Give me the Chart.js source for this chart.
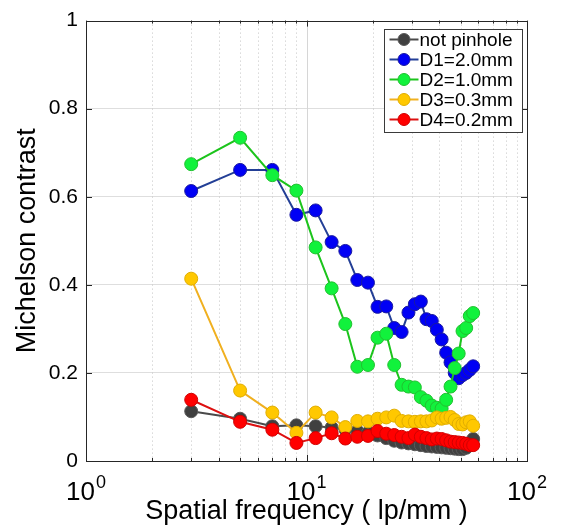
<!DOCTYPE html>
<html><head><meta charset="utf-8">
<script src="https://cdn.jsdelivr.net/npm/chart.js@4/dist/chart.umd.min.js"></script>
<style>html,body{margin:0;padding:0;background:#fff}#wrap{width:565px;height:529px;position:relative}</style>
</head><body><div id="wrap"><canvas id="c" width="565" height="529"></canvas></div>
<script>
const frequencies = [3,5,7,9,11,13,15,17,19,21,23,25,27,29,31,33,35,37,39,41,43,45,47,49,51,53,55,57];
const notPinhole = [0.113,0.096,0.079,0.081,0.079,0.076,0.072,0.068,0.064,0.058,0.052,0.046,0.042,0.040,0.038,0.036,0.034,0.033,0.032,0.031,0.030,0.029,0.028,0.027,0.027,0.030,0.040,0.050];
const d1 = [0.613,0.661,0.661,0.559,0.569,0.497,0.477,0.411,0.405,0.350,0.351,0.302,0.293,0.337,0.356,0.362,0.322,0.318,0.298,0.276,0.246,0.224,0.200,0.188,0.195,0.200,0.207,0.215];
const d2 = [0.674,0.734,0.649,0.614,0.485,0.392,0.311,0.214,0.218,0.280,0.289,0.218,0.173,0.169,0.167,0.145,0.137,0.126,0.121,0.119,0.139,0.169,0.211,0.244,0.295,0.302,0.329,0.336];
const d3 = [0.414,0.160,0.110,0.064,0.110,0.099,0.077,0.091,0.090,0.096,0.099,0.103,0.091,0.090,0.089,0.090,0.090,0.092,0.099,0.096,0.098,0.100,0.093,0.084,0.083,0.088,0.090,0.080];
const d4 = [0.139,0.089,0.071,0.041,0.052,0.063,0.051,0.055,0.057,0.068,0.062,0.059,0.055,0.052,0.060,0.055,0.052,0.049,0.051,0.050,0.047,0.044,0.043,0.042,0.041,0.039,0.036,0.036];
const seriesLabels = ['not pinhole','D1=2.0mm','D2=1.0mm','D3=0.3mm','D4=0.2mm'];
const xTickValues = [1,10,100];
const xTickBase = '10';
const xTickExponents = ['0','1','2'];
const xMinorValues = [2,3,4,5,6,7,8,9,20,30,40,50,60,70,80,90];
const yTickValues = [0,0.2,0.4,0.6,0.8,1];
const yTickLabels = ['0','0.2','0.4','0.6','0.8','1'];

const FONT = '"Liberation Sans", Arial, Helvetica, sans-serif';
const styles = [
  {face:'#404040', edge:'#5a5a5a', line:'#4a4a4a', order:5},
  {face:'#0000f5', edge:'#1a1aa0', line:'#233f96', order:4},
  {face:'#11f23c', edge:'#22c030', line:'#1cc41c', order:3},
  {face:'#ffc800', edge:'#e0ad00', line:'#f0b020', order:2},
  {face:'#ff0000', edge:'#d00000', line:'#dd1010', order:1}
];
const allSeries = [notPinhole, d1, d2, d3, d4];

const datasets = allSeries.map((arr, i) => ({
  label: seriesLabels[i],
  data: frequencies.map((f, j) => ({x: f, y: arr[j]})),
  borderColor: styles[i].line,
  borderWidth: 2,
  backgroundColor: styles[i].face,
  pointBackgroundColor: styles[i].face,
  pointBorderColor: styles[i].edge,
  pointBorderWidth: 1,
  pointRadius: 6.5,
  pointHoverRadius: 6.5,
  tension: 0,
  fill: false,
  order: styles[i].order
}));

const decor = {
  id: 'decor',
  beforeDatasetsDraw(chart) {
    const ctx = chart.ctx, ca = chart.chartArea, xs = chart.scales.x;
    ctx.save();
    ctx.lineWidth = 1;
    ctx.strokeStyle = '#c4c4c4';
    ctx.setLineDash([1, 3]);
    xMinorValues.forEach(v => {
      const px = Math.round(xs.getPixelForValue(v)) + 0.5;
      ctx.beginPath(); ctx.moveTo(px, ca.top); ctx.lineTo(px, ca.bottom); ctx.stroke();
    });
    ctx.setLineDash([]);
    ctx.strokeStyle = '#d6d6d6';
    const p10 = Math.round(xs.getPixelForValue(10)) + 0.5;
    ctx.beginPath(); ctx.moveTo(p10, ca.top); ctx.lineTo(p10, ca.bottom); ctx.stroke();
    ctx.restore();
  },
  afterDatasetsDraw(chart) {
    const ctx = chart.ctx, ca = chart.chartArea, xs = chart.scales.x, ys = chart.scales.y;
    ctx.save();
    ctx.strokeStyle = '#262626';
    ctx.lineWidth = 1;
    const tick = (x1, y1, x2, y2) => { ctx.beginPath(); ctx.moveTo(x1, y1); ctx.lineTo(x2, y2); ctx.stroke(); };
    xMinorValues.forEach(v => {
      const px = Math.round(xs.getPixelForValue(v)) + 0.5;
      tick(px, ca.bottom, px, ca.bottom - 3);
      tick(px, ca.top, px, ca.top + 3);
    });
    xTickValues.forEach(v => {
      const px = Math.round(xs.getPixelForValue(v)) + 0.5;
      tick(px, ca.bottom, px, ca.bottom - 6);
      tick(px, ca.top, px, ca.top + 6);
    });
    yTickValues.forEach(v => {
      const py = Math.round(ys.getPixelForValue(v)) + 0.5;
      tick(ca.left, py, ca.left + 6, py);
      tick(ca.right, py, ca.right - 6, py);
    });
    ctx.strokeRect(Math.round(ca.left) + 0.5, Math.round(ca.top) + 0.5, Math.round(ca.right - ca.left), Math.round(ca.bottom - ca.top));
    // x tick labels: base with raised exponent, placed by the scale
    ctx.fillStyle = '#000';
    ctx.textBaseline = 'alphabetic';
    ctx.textAlign = 'left';
    xTickValues.forEach((v, k) => {
      const px = xs.getPixelForValue(v);
      ctx.font = '26px ' + FONT;
      const wb = ctx.measureText(xTickBase).width;
      ctx.font = '18px ' + FONT;
      const we = ctx.measureText(xTickExponents[k]).width;
      const x0 = px - (wb + we + 1) / 2;
      ctx.font = '26px ' + FONT;
      ctx.fillText(xTickBase, x0, 500);
      ctx.font = '18px ' + FONT;
      ctx.fillText(xTickExponents[k], x0 + wb + 1, 488);
    });
    // legend
    const bx = Math.round(ca.right) - 143 + 0.5, by = Math.round(ca.top) + 8 + 0.5, bw = 138, bh = 103;
    ctx.fillStyle = '#ffffff';
    ctx.fillRect(bx, by, bw, bh);
    ctx.strokeStyle = '#3a3a3a';
    ctx.lineWidth = 1;
    ctx.strokeRect(bx, by, bw, bh);
    chart.data.datasets.forEach((ds, i) => {
      const cy = by + 10 + 20 * i;
      ctx.strokeStyle = ds.borderColor;
      ctx.lineWidth = 2;
      ctx.beginPath(); ctx.moveTo(bx + 5, cy); ctx.lineTo(bx + 34, cy); ctx.stroke();
      ctx.beginPath(); ctx.arc(bx + 19.5, cy, 6, 0, Math.PI * 2);
      ctx.fillStyle = ds.pointBackgroundColor; ctx.fill();
      ctx.lineWidth = 1; ctx.strokeStyle = ds.pointBorderColor; ctx.stroke();
      ctx.fillStyle = '#000';
      ctx.font = '19px ' + FONT;
      ctx.textBaseline = 'middle';
      ctx.textAlign = 'left';
      ctx.fillText(ds.label, bx + 35, cy + 1);
    });
    ctx.restore();
  }
};

new Chart(document.getElementById('c'), {
  type: 'line',
  data: { datasets },
  options: {
    responsive: false,
    animation: false,
    devicePixelRatio: 1,
    layout: { padding: { left: 0, right: 38, top: 17, bottom: 0 } },
    plugins: { legend: { display: false }, tooltip: { enabled: false } },
    scales: {
      x: {
        type: 'logarithmic',
        min: 1, max: 100,
        afterBuildTicks: s => { s.ticks = xTickValues.map(v => ({ value: v })); },
        afterFit: s => { s.height = 68; },
        ticks: { display: false },
        grid: { display: true, drawOnChartArea: false, drawTicks: false },
        border: { display: false },
        title: { display: true, text: 'Spatial frequency ( lp/mm )', color: '#000', font: { family: FONT, size: 27 }, padding: { top: 0, bottom: 1 } }
      },
      y: {
        min: 0, max: 1,
        afterBuildTicks: s => { s.ticks = yTickValues.map(v => ({ value: v })); },
        afterFit: s => { s.width = 86; },
        ticks: {
          padding: 8, color: '#000',
          font: { family: FONT, size: 21 },
          callback: (v) => { const k = yTickValues.indexOf(v); return k >= 0 ? yTickLabels[k] : ''; }
        },
        grid: {
          drawTicks: false,
          lineWidth: 1,
          color: c => (c.tick && (c.tick.value === 0 || c.tick.value === 1)) ? 'rgba(0,0,0,0)' : '#dedede'
        },
        border: { display: false },
        title: { display: true, text: 'Michelson contrast', color: '#000', font: { family: FONT, size: 27 }, padding: { top: 11, bottom: 0 } }
      }
    }
  },
  plugins: [decor]
});
</script>
</body></html>
